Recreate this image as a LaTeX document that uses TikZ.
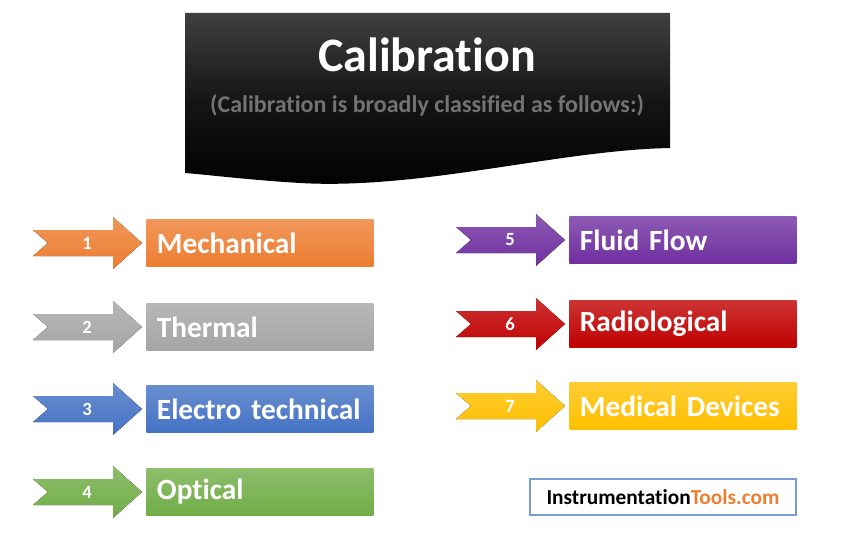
\documentclass[tikz,border=0pt]{standalone}
\usepackage{fontspec}
\setmainfont[Ligatures={NoCommon}]{Carlito}
\begin{document}
\begin{tikzpicture}[x=0.75pt,y=-0.75pt,
  catbox/.style={minimum width=170.25pt,minimum height=35.25pt,inner ysep=0pt,inner xsep=8pt,anchor=west,
     text=white,font=\bfseries\fontsize{22}{24}\selectfont,align=left,text width=154.25pt},
  num/.style={text=white,font=\bfseries\fontsize{14}{16}\selectfont}]
\useasboundingbox (0,0) rectangle (860,535);
% header
\shade[top color=black!75,bottom color=black,middle color=black!92]
  (185,13) -- (670,13) -- (670,148) .. controls (560,150) and (420,190) .. (300,183)
  .. controls (250,180) and (210,175) .. (185,173) -- cycle;
\node[text=white,font=\bfseries\fontsize{36}{40}\selectfont] (title) at (427,55) {Calibration};
\node[text=black!55,font=\bfseries\fontsize{18}{21}\selectfont] (sub) at (427,105) {(Calibration is broadly classified as follows:)};
\newcommand\catrow[6]{% x0, cy, color, number, label, name
  \fill[top color=#3!80!white,bottom color=#3] (#1,#2-13) -- (#1+80,#2-13) -- (#1+80,#2-26) -- (#1+109,#2)
     -- (#1+80,#2+26) -- (#1+80,#2+13) -- (#1,#2+13) -- (#1+15,#2) -- cycle;
  \node[num] (n#6) at (#1+54,#2) {#4};
  \node[catbox,top color=#3!80!white,bottom color=#3] (b#6) at (#1+113,#2) {#5};
}
\definecolor{corange}{HTML}{ED7D31}
\definecolor{cgray}{HTML}{A5A5A5}
\definecolor{cblue}{HTML}{4472C4}
\definecolor{cgreen}{HTML}{70AD47}
\definecolor{cpurple}{HTML}{7030A0}
\definecolor{cred}{HTML}{C00000}
\definecolor{cgold}{HTML}{FFC000}
\catrow{33}{243}{corange}{1}{Mechanical}{a}
\catrow{33}{327}{cgray}{2}{Thermal}{b}
\catrow{33}{409}{cblue}{3}{Electro technical}{c}
\catrow{33}{492}{cgreen}{4}{Optical}{d}
\catrow{456}{240}{cpurple}{5}{Fluid Flow}{e}
\catrow{456}{324}{cred}{6}{Radiological}{f}
\catrow{456}{406}{cgold}{7}{Medical Devices}{g}
\node[draw=cblue!70,line width=0.8pt,minimum width=199.5pt,minimum height=27pt,
  font=\bfseries\fontsize{16}{18}\selectfont] (logo) at (663,497)
  {Instrumentation\textcolor{corange}{Tools.com}};
\end{tikzpicture}
\end{document}
